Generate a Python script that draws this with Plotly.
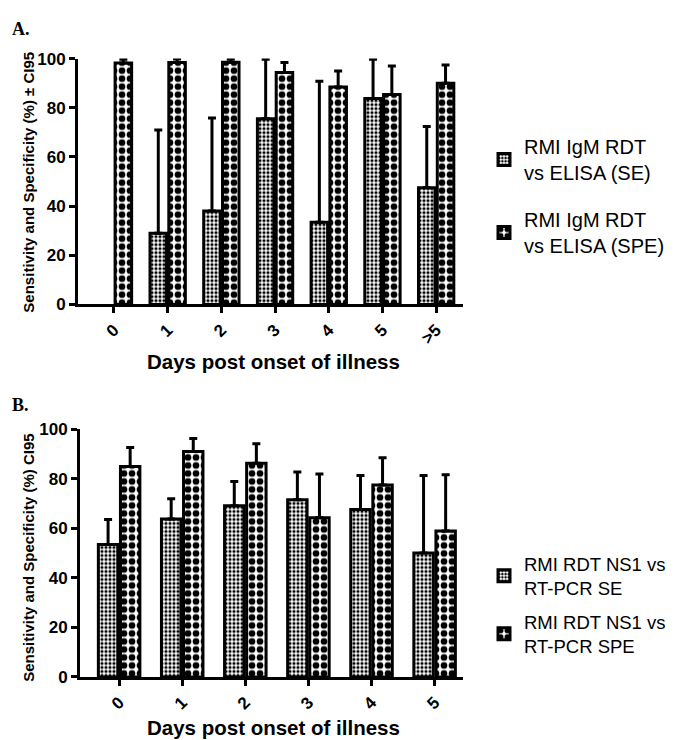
import plotly.graph_objects as go

# ---- Data ----
days_a = ["0", "1", "2", "3", "4", "5", ">5"]
se_a = [None, 29, 38, 75.5, 33.4, 83.8, 47.5]
se_a_upper = [None, 71, 75.8, 99.7, 90.8, 99.7, 72.4]
spe_a = [98.2, 98.4, 98.5, 94.3, 88.4, 85.4, 90.0]
spe_a_upper = [99.7, 99.8, 99.8, 98.4, 95.0, 97.0, 97.4]

days_b = ["0", "1", "2", "3", "4", "5"]
se_b = [53.5, 63.8, 69.2, 71.6, 67.6, 50.1]
se_b_upper = [63.6, 72.0, 79.0, 82.8, 81.4, 81.4]
spe_b = [85.0, 91.1, 86.3, 64.3, 77.5, 59.0]
spe_b_upper = [92.7, 96.3, 94.2, 82.0, 88.6, 81.7]

names_a = ["RMI IgM RDT<br>vs ELISA (SE)", "RMI IgM RDT<br>vs ELISA (SPE)"]
names_b = ["RMI RDT NS1 vs<br>RT-PCR SE", "RMI RDT NS1 vs<br>RT-PCR SPE"]
y_ticks = [0, 20, 40, 60, 80, 100]

W, H = 680, 740
def py(px):
    return 1 - px / H
def pxx(px):
    return px / W

FONT = "Liberation Sans"
fine = dict(shape=".", size=4, solidity=0.5, fgcolor="black", bgcolor="white", fillmode="replace")
coarse = dict(shape=".", size=8, solidity=0.55, fgcolor="black", bgcolor="white", fillmode="replace")

def add_bar(fig, x, y, upper, name, pattern, xa, ya, legend, group):
    err = [None if (u is None or v is None) else u - v for u, v in zip(upper, y)]
    fig.add_trace(go.Bar(
        x=x, y=y, name=name, xaxis=xa, yaxis=ya, legend=legend, legendgroup=group,
        marker=dict(color="white", line=dict(color="black", width=3), pattern=pattern),
        error_y=dict(type="data", array=err, arrayminus=[0] * len(err), symmetric=False,
                     color="black", thickness=3, width=4),
    ))

fig = go.Figure()
add_bar(fig, days_a, se_a, se_a_upper, names_a[0], fine, "x", "y", "legend", "a1")
add_bar(fig, days_a, spe_a, spe_a_upper, names_a[1], coarse, "x", "y", "legend", "a2")
add_bar(fig, days_b, se_b, se_b_upper, names_b[0], fine, "x2", "y2", "legend2", "b1")
add_bar(fig, days_b, spe_b, spe_b_upper, names_b[1], coarse, "x2", "y2", "legend2", "b2")

tickfont = dict(family=FONT, size=17, color="black", weight="bold")
axis_common = dict(showline=True, linecolor="black", linewidth=3, ticks="outside",
                   ticklen=6, tickwidth=3, tickcolor="black", showgrid=False,
                   zeroline=False, tickfont=tickfont)

fig.update_layout(
    width=W, height=H, margin=dict(l=0, r=0, t=0, b=0),
    paper_bgcolor="white", plot_bgcolor="white",
    barmode="group", bargap=0.3, bargroupgap=0.12,
    font=dict(family=FONT, color="black"),
    xaxis=dict(domain=[pxx(70), pxx(455)], anchor="y", type="category",
               range=[-0.67, 6.5], tickangle=-45, **axis_common),
    yaxis=dict(domain=[py(295), py(42.7)], anchor="x", range=[0, 100],
               tickvals=y_ticks, **axis_common),
    xaxis2=dict(domain=[pxx(72), pxx(455)], anchor="y2", type="category",
                range=[-0.62, 5.45], tickangle=-45, **axis_common),
    yaxis2=dict(domain=[py(677.3), py(423.3)], anchor="x2", range=[0, 100],
                tickvals=y_ticks, **axis_common),
    legend=dict(x=pxx(476), y=py(113), xanchor="left", yanchor="top",
                font=dict(family=FONT, size=20, color="black"),
                tracegroupgap=18, itemwidth=30, bgcolor="rgba(0,0,0,0)"),
    legend2=dict(x=pxx(476), y=py(542), xanchor="left", yanchor="top",
                 font=dict(family=FONT, size=18.5, color="black"),
                 tracegroupgap=7, itemwidth=30, bgcolor="rgba(0,0,0,0)"),
    showlegend=True,
)

annots = [
    dict(text="<b>A.</b>", x=pxx(2), y=py(12), xanchor="left", yanchor="middle",
         font=dict(family="Liberation Serif", size=18, color="black")),
    dict(text="<b>B.</b>", x=pxx(2), y=py(398), xanchor="left", yanchor="middle",
         font=dict(family="Liberation Serif", size=18, color="black")),
    dict(text="<b>Days post onset of illness</b>", x=pxx(265), y=py(354),
         xanchor="center", yanchor="middle",
         font=dict(family=FONT, size=20.5, color="black")),
    dict(text="<b>Days post onset of illness</b>", x=pxx(265), y=py(729),
         xanchor="center", yanchor="middle",
         font=dict(family=FONT, size=20.5, color="black")),
    dict(text="<b>Sensitivity and Specificity (%) ± CI95</b>", x=pxx(21), y=py(170),
         xanchor="center", yanchor="middle", textangle=-90,
         font=dict(family=FONT, size=15, color="black")),
    dict(text="<b>Sensitivity and Specificity (%) CI95</b>", x=pxx(21), y=py(555),
         xanchor="center", yanchor="middle", textangle=-90,
         font=dict(family=FONT, size=15, color="black")),
]
for a in annots:
    a.update(xref="paper", yref="paper", showarrow=False)
fig.update_layout(annotations=annots)

fig.write_html("out.html")
